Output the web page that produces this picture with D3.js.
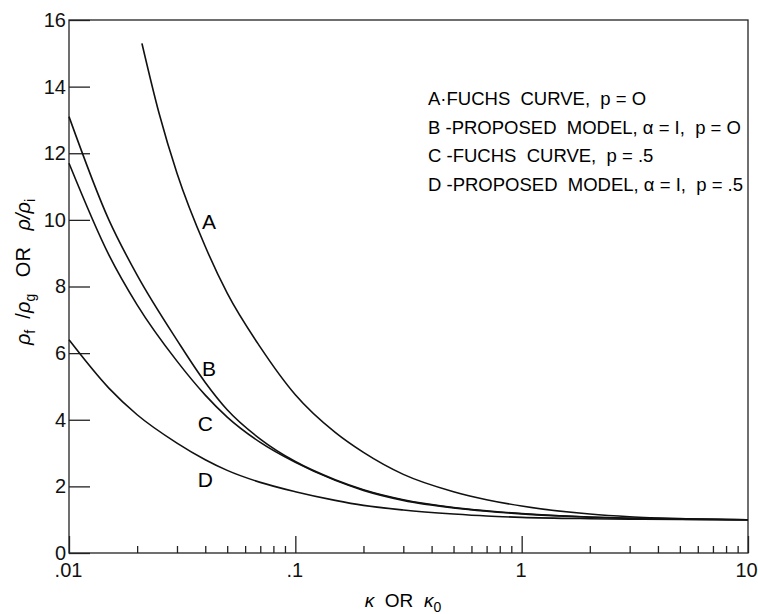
<!DOCTYPE html>
<style>
  body { margin: 0; background: #fff; }
  svg { font-family: "Liberation Sans", Arial, sans-serif; }
  .axis path { display: none; }
  .axis line { stroke: #222; stroke-width: 1.3; }
  .axis text { font-size: 20px; fill: #111; font-family: "Liberation Sans", Arial, sans-serif; }
</style>
<svg width="758" height="614"></svg>
<script src="https://d3js.org/d3.v7.min.js"></script>
<script>

// kappa values
var kappaA = [0.021, 0.025, 0.03, 0.04, 0.05, 0.07, 0.1, 0.15, 0.2, 0.3, 0.5, 0.7, 1, 2, 3, 5, 10];
var kappa  = [0.01, 0.015, 0.02, 0.03, 0.04, 0.05, 0.07, 0.1, 0.15, 0.2, 0.3, 0.5, 0.7, 1, 2, 3, 5, 10];

// A - Fuchs curve, p=0
var curveA = [15.3, 13.2, 11.4, 9.2, 7.8, 6.18, 4.75, 3.62, 3.02, 2.36, 1.84, 1.6, 1.41, 1.17, 1.09, 1.035, 1.0];
// B - proposed model, a=1, p=0
var curveB = [13.1, 10.0, 8.34, 6.39, 5.12, 4.3, 3.42, 2.745, 2.2, 1.9, 1.6, 1.368, 1.266, 1.185, 1.08, 1.045, 1.018, 1.0];
// C - Fuchs curve, p=.5
var curveC = [11.7, 8.95, 7.45, 5.76, 4.74, 4.08, 3.32, 2.72, 2.18, 1.88, 1.58, 1.355, 1.255, 1.175, 1.075, 1.04, 1.015, 1.0];
// D - proposed model, a=1, p=.5
var curveD = [6.4, 4.95, 4.15, 3.3, 2.8, 2.48, 2.12, 1.84, 1.58, 1.43, 1.29, 1.17, 1.11, 1.07, 1.03, 1.015, 1.005, 1.0];

var xMajor = [0.01, 0.1, 1, 10];
var xMajorLabels = [".01", ".1", "1", "10"];
var yTicks = [0, 2, 4, 6, 8, 10, 12, 14, 16];

var legendLabels = [
  "A\u00b7FUCHS  CURVE,  p = O",
  "B -PROPOSED  MODEL, \u03b1 = I,  p = O",
  "C -FUCHS  CURVE,  p = .5",
  "D -PROPOSED  MODEL, \u03b1 = I,  p = .5"
];

// curve letters: [name, kappa, value]
var curveTags = [["A", 0.0415, 9.95], ["B", 0.0415, 5.55], ["C", 0.040, 3.9], ["D", 0.040, 2.2]];

var svg = d3.select("svg"),
    pl = 69, pr = 748, pt = 20, pb = 553;

var x = d3.scaleLog().domain([0.01, 10]).range([pl, pr]);
var y = d3.scaleLinear().domain([0, 16]).range([pb, pt]);

// minor ticks 2..9 in each decade
var xMinor = [];
[0.01, 0.1, 1].forEach(function(d) {
  for (var i = 2; i <= 9; i++) xMinor.push(d * i);
});

svg.append("g")
    .attr("class", "axis")
    .attr("transform", "translate(0," + pb + ")")
    .call(d3.axisBottom(x).tickValues(xMinor).tickSize(-7).tickFormat(""));

svg.append("g")
    .attr("class", "axis")
    .attr("transform", "translate(0," + pb + ")")
    .call(d3.axisBottom(x).tickValues(xMajor).tickSize(-17).tickPadding(10)
      .tickFormat(function(d, i) { return xMajorLabels[i]; }))
    .selectAll("text").attr("dx", function(d, i) { return i == 3 ? "-2px" : "-1px"; });

svg.append("g")
    .attr("class", "axis")
    .attr("transform", "translate(" + pl + ",0)")
    .call(d3.axisLeft(y).tickValues(yTicks).tickSize(-21).tickPadding(3));

// frame
svg.append("rect")
    .attr("x", pl)
    .attr("y", pt)
    .attr("width", pr - pl)
    .attr("height", pb - pt)
    .attr("fill", "none")
    .attr("stroke", "#222")
    .attr("stroke-width", 1.3);

var line = d3.line()
    .x(function(d) { return x(d[0]); })
    .y(function(d) { return y(d[1]); })
    .curve(d3.curveMonotoneX);

[[kappaA, curveA], [kappa, curveB], [kappa, curveC], [kappa, curveD]].forEach(function(s) {
  svg.append("path")
      .datum(d3.zip(s[0], s[1]))
      .attr("d", line)
      .attr("fill", "none")
      .attr("stroke", "#111")
      .attr("stroke-width", 1.6);
});

svg.selectAll(".tag")
  .data(curveTags)
  .enter().append("text")
    .attr("class", "tag")
    .attr("x", function(d) { return x(d[1]); })
    .attr("y", function(d) { return y(d[2]); })
    .attr("dy", "0.36em")
    .attr("text-anchor", "middle")
    .style("font-size", "21px")
    .text(function(d) { return d[0]; });

// legend
svg.selectAll(".legend")
  .data(legendLabels)
  .enter().append("text")
    .attr("class", "legend")
    .attr("x", 428)
    .attr("y", function(d, i) { return 105 + 28.5 * i; })
    .style("font-size", "18.5px")
    .attr("xml:space", "preserve")
    .text(function(d) { return d; });

// x title
var xt = svg.append("text")
    .attr("x", 403)
    .attr("y", 607)
    .attr("text-anchor", "middle")
    .style("font-size", "19px")
    .attr("xml:space", "preserve");
xt.append("tspan").style("font-style", "italic").text("\u03ba");
xt.append("tspan").text("  OR  ");
xt.append("tspan").style("font-style", "italic").text("\u03ba");
xt.append("tspan").attr("dy", 5).style("font-size", "14px").text("0");

// y title
var yt = svg.append("text")
    .attr("transform", "translate(30,272) rotate(-90)")
    .attr("text-anchor", "middle")
    .style("font-size", "20px")
    .attr("xml:space", "preserve");
yt.append("tspan").style("font-style", "italic").text("\u03c1");
yt.append("tspan").attr("dy", 5).style("font-size", "14px").text("f");
yt.append("tspan").attr("dy", -5).text("  /");
yt.append("tspan").style("font-style", "italic").text("\u03c1");
yt.append("tspan").attr("dy", 5).style("font-size", "14px").text("g");
yt.append("tspan").attr("dy", -5).text("   OR   ");
yt.append("tspan").style("font-style", "italic").text("\u03c1/\u03c1");
yt.append("tspan").attr("dy", 5).style("font-size", "14px").text("i");

</script>
